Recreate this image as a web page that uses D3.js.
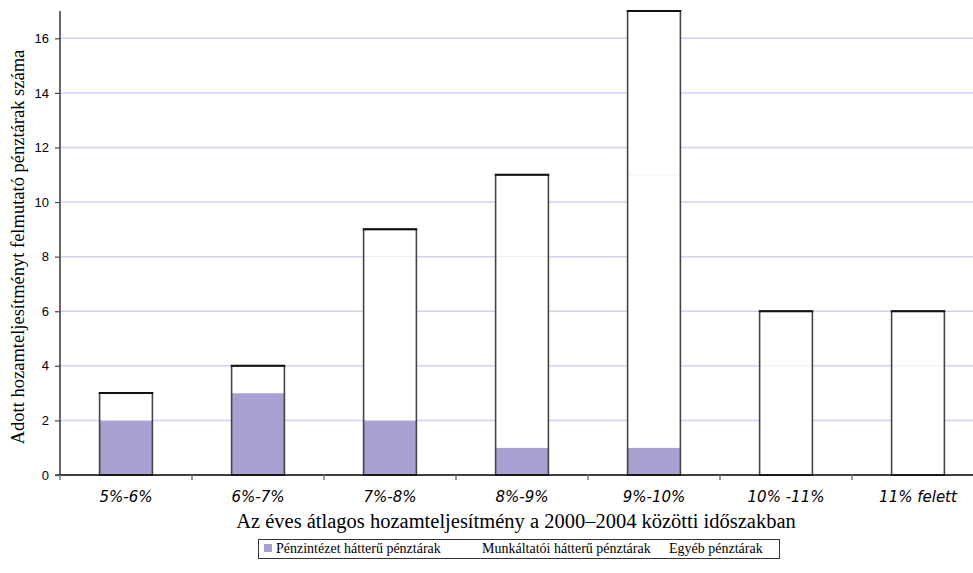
<!DOCTYPE html>
<html><head><meta charset="utf-8">
<script src="https://cdn.jsdelivr.net/npm/d3@7"></script>
<style>body{margin:0;background:#fff}svg{display:block}</style>
</head><body>
<script>
const categories = ["5%-6%","6%-7%","7%-8%","8%-9%","9%-10%","10% -11%","11% felett"];
const penzintezet = [2,3,2,1,1,0,0];
const munkaltatoi = [1,1,6,7,10,4,4];
const egyeb = [0,0,1,3,6,2,2];
const seriesNames = ["Pénzintézet hátterű pénztárak","Munkáltatói hátterű pénztárak","Egyéb pénztárak"];
const yTicks = [0,2,4,6,8,10,12,14,16];

const W = 973, H = 573;
const m = {left:60, top:11};
const svg = d3.select("body").append("svg").attr("width",W).attr("height",H);
const iw = 984-60, ih = 475-11;
const g = svg.append("g").attr("transform",`translate(${m.left},${m.top})`);

const x = d3.scaleBand().domain(categories).range([0,iw]).paddingInner(0.6).paddingOuter(0.3);
const y = d3.scaleLinear().domain([0,17]).range([ih,0]);

// gridlines
g.append("g").selectAll("line").data(yTicks.filter(d=>d>0)).join("line")
  .attr("x1",0).attr("x2",iw).attr("y1",d=>y(d)).attr("y2",d=>y(d))
  .attr("stroke","#d2d2f8").attr("stroke-width",1.5);

const table = categories.map((c,i)=>({cat:c, p:penzintezet[i], m:munkaltatoi[i], e:egyeb[i]}));
const stack = d3.stack().keys(["p","m","e"])(table);
const fills = ["#a7a2d1","#ffffff","#ffffff"];

stack.forEach((s,si)=>{
  g.append("g").selectAll("rect").data(s).join("rect")
    .attr("x",d=>x(d.data.cat)).attr("width",x.bandwidth())
    .attr("y",d=>y(d[1])).attr("height",d=>y(d[0])-y(d[1]))
    .attr("fill",fills[si]);
});
// faint boundary between Munkáltatói and Egyéb segments
g.append("g").selectAll("line").data(stack[2].filter(d=>d[1]-d[0]>0)).join("line")
  .attr("x1",d=>x(d.data.cat)).attr("x2",d=>x(d.data.cat)+x.bandwidth())
  .attr("y1",d=>y(d[0])).attr("y2",d=>y(d[0]))
  .attr("stroke","#efefef").attr("stroke-width",1.2);
// outer outline of each bar
g.append("g").selectAll("rect").data(stack[2]).join("rect")
  .attr("x",d=>x(d.data.cat)).attr("width",x.bandwidth())
  .attr("y",d=>y(d[1])).attr("height",d=>y(0)-y(d[1]))
  .attr("fill","none").attr("stroke","#444").attr("stroke-width",1.6);
// top thick lines
g.append("g").selectAll("line").data(stack[2]).join("line")
  .attr("x1",d=>x(d.data.cat)-0.8).attr("x2",d=>x(d.data.cat)+x.bandwidth()+0.8)
  .attr("y1",d=>y(d[1])).attr("y2",d=>y(d[1]))
  .attr("stroke","#111").attr("stroke-width",2);

// y axis
const ya = g.append("g").call(d3.axisLeft(y).tickValues(yTicks).tickSize(5).tickPadding(6));
ya.select(".domain").attr("stroke","#444").attr("stroke-width",1.6).attr("d",`M-5,${ih}H0V0`);
ya.selectAll(".tick line").attr("stroke","#444").attr("stroke-width",1.2);
ya.selectAll("text").attr("font-family","Liberation Sans, Arial, sans-serif").attr("font-size",13).attr("fill","#000");

// x axis
const xa = g.append("g").attr("transform",`translate(0,${ih})`);
xa.append("line").attr("x1",0).attr("x2",iw).attr("stroke","#000").attr("stroke-width",1.5);
const step = x.step();
xa.selectAll(".t").data(d3.range(categories.length+1)).join("line")
  .attr("x1",i=>i*step).attr("x2",i=>i*step).attr("y1",0).attr("y2",5)
  .attr("stroke","#777").attr("stroke-width",1.5);
xa.selectAll("text").data(categories).join("text")
  .attr("x",d=>x(d)+x.bandwidth()/2).attr("y",27)
  .attr("text-anchor","middle").attr("font-family","DejaVu Sans, Verdana, sans-serif")
  .attr("font-style","italic").attr("font-size",15).text(d=>d);

// titles
svg.append("text").attr("transform",`translate(24,${247}) rotate(-90)`)
  .attr("text-anchor","middle").attr("font-family","Liberation Serif, Times New Roman, serif")
  .attr("font-size",18.5).text("Adott hozamteljesítményt felmutató pénztárak száma");
svg.append("text").attr("x",516).attr("y",528).attr("text-anchor","middle")
  .attr("font-family","Liberation Serif, Times New Roman, serif").attr("font-size",20.5)
  .text("Az éves átlagos hozamteljesítmény a 2000–2004 közötti időszakban");

// legend
const lg = svg.append("g");
lg.append("rect").attr("x",258.5).attr("y",539.5).attr("width",521).attr("height",19)
  .attr("fill","none").attr("stroke","#333").attr("stroke-width",1);
lg.append("rect").attr("x",264).attr("y",544).attr("width",8).attr("height",8).attr("fill","#a7a2d1");
const lx = [276, 482, 669];
lg.selectAll("text.l").data(seriesNames).join("text").attr("class","l")
  .attr("x",(d,i)=>lx[i]).attr("y",553).attr("font-family","Liberation Serif, Times New Roman, serif")
  .attr("font-size",14).text(d=>d);
</script>
</body></html>
